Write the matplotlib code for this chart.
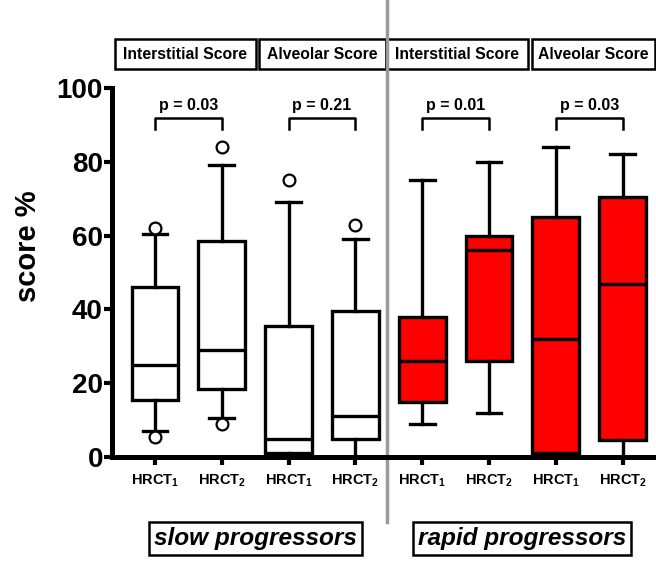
import matplotlib
matplotlib.use('Agg')
import matplotlib.pyplot as plt
import matplotlib.transforms as mtransforms
from matplotlib.patches import Rectangle

plt.rcParams['font.family'] = 'Liberation Sans'
plt.rcParams['font.weight'] = 'bold'
plt.rcParams['mathtext.fontset'] = 'custom'
plt.rcParams['mathtext.rm'] = 'Liberation Sans:bold'
plt.rcParams['mathtext.bf'] = 'Liberation Sans:bold'

# Box statistics (score %)
tick_labels = ['HRCT$_1$', 'HRCT$_2$'] * 4
medians = [25, 29, 5, 11, 26, 56, 32, 47]
q1s = [15.5, 18.5, 1, 5, 15, 26, 1, 4.5]
q3s = [46, 58.5, 35.5, 39.5, 38, 60, 65, 70.5]
whis_lo = [7, 10.5, 0, 0, 9, 12, 0, 0]
whis_hi = [60.5, 79, 69, 59, 75, 80, 84, 82]
outliers = [[62, 5.5], [84, 9], [75], [63], [], [], [], []]
box_colors = ['white'] * 4 + ['#ff0000'] * 4

headers = ['Interstitial Score', 'Alveolar Score', 'Interstitial Score', 'Alveolar Score']
p_values = ['p = 0.03', 'p = 0.21', 'p = 0.01', 'p = 0.03']
groups = ['slow progressors', 'rapid progressors']

positions = list(range(1, 9))
stats = []
for i in range(8):
    stats.append(dict(med=medians[i], q1=q1s[i], q3=q3s[i],
                      whislo=whis_lo[i], whishi=whis_hi[i], fliers=outliers[i]))

fig = plt.figure(figsize=(6.56, 5.61), dpi=100)
ax = fig.add_axes([112 / 656, 1 - 457 / 561, 1 - 112 / 656, (457 - 88) / 561])

bp = ax.bxp(stats, positions=positions, widths=0.7, capwidths=0.37, patch_artist=True,
            boxprops=dict(linewidth=2.4, edgecolor='black'),
            medianprops=dict(color='black', linewidth=2.4),
            whiskerprops=dict(color='black', linewidth=2.4),
            capprops=dict(color='black', linewidth=2.4),
            flierprops=dict(marker='o', markersize=8.5, markerfacecolor='white',
                            markeredgecolor='black', markeredgewidth=1.6))
for patch, col in zip(bp['boxes'], box_colors):
    patch.set_facecolor(col)

ax.set_xlim(0.356, 8.5)
ax.set_ylim(0, 100)
ax.set_yticks([0, 20, 40, 60, 80, 100])
ax.set_xticks(positions)
ax.set_xticklabels(tick_labels, fontsize=10.5, fontweight='bold')
ax.tick_params(axis='y', labelsize=20, length=5.5, width=3, pad=1)
ax.tick_params(axis='x', length=6, width=3, pad=5)
for lab in ax.get_yticklabels():
    lab.set_fontweight('bold')
ax.spines['top'].set_visible(False)
ax.spines['right'].set_visible(False)
ax.spines['left'].set_linewidth(3.6)
ax.spines['bottom'].set_linewidth(3.6)
ax.set_ylabel('score %', fontsize=21, fontweight='bold')
ax.yaxis.set_label_coords(-0.128, 0.57)

# p-value brackets
for k, ptxt in enumerate(p_values):
    a, b = positions[2 * k], positions[2 * k + 1]
    ax.plot([a, a, b, b], [89, 92, 92, 89], color='black', lw=1.8, clip_on=False)
    ax.text((a + b) / 2, 93.3, ptxt, ha='center', va='bottom', fontsize=11.5, fontweight='bold')

# header boxes, each spanning its pair of boxes
header_edges = [(0.40, 2.51), (2.55, 4.46), (4.46, 6.58), (6.64, 8.49)]
for h, (x0, x1) in zip(headers, header_edges):
    ax.add_patch(Rectangle((x0, 105.1), x1 - x0, 8.2, facecolor='white', edgecolor='black',
                           linewidth=1.8, clip_on=False))
    ax.text((x0 + x1) / 2, 109.2, h, ha='center', va='center', fontsize=11.3,
            fontweight='bold', clip_on=False)

# group labels
for k, g in enumerate(groups):
    xc = (positions[4 * k] + positions[4 * k + 3]) / 2
    ax.text(xc, -22, g, ha='center', va='center', fontsize=17.6, fontweight='bold', style='italic',
            clip_on=False,
            bbox=dict(boxstyle='square,pad=0.2', facecolor='white', edgecolor='black', linewidth=1.8))

# gray separator between groups
trans = mtransforms.blended_transform_factory(ax.transData, fig.transFigure)
ax.plot([4.47, 4.47], [1 - 522 / 561, 1.0], transform=trans, color='#9a9a9a', lw=2.5, clip_on=False)

fig.savefig('out.png', dpi=100)
